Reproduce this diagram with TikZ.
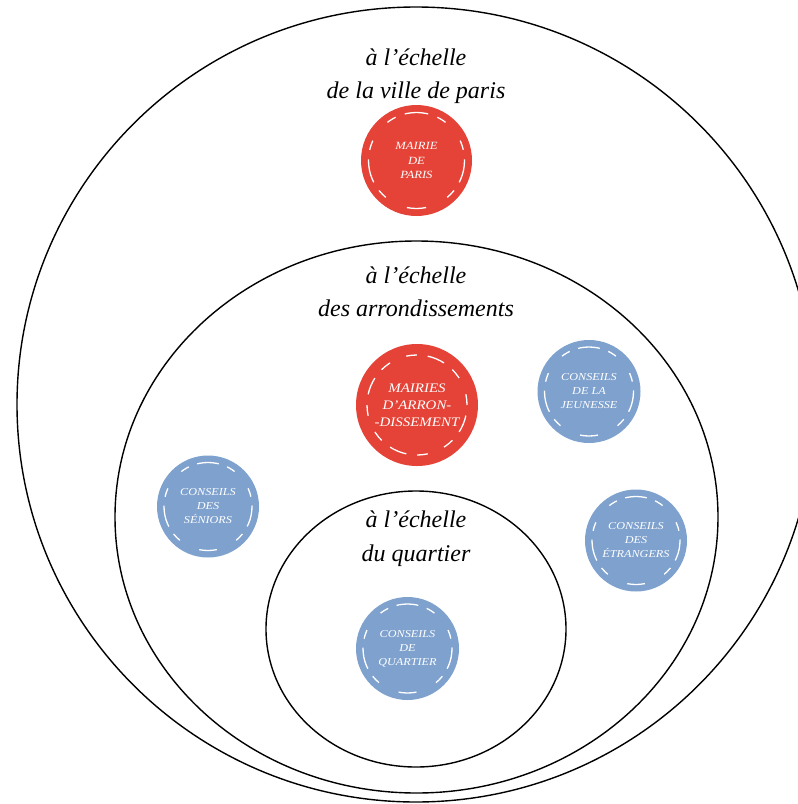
\documentclass[tikz,border=0pt]{standalone}
\usepackage{fontspec}
\setmainfont{Liberation Serif}
\newfontfamily\discfont[FakeStretch=1.15]{Liberation Serif}
\usetikzlibrary{shapes.geometric}
\definecolor{mred}{RGB}{229,67,56}
\definecolor{mblue}{RGB}{126,161,206}
\tikzset{
  ring/.style={draw=black, line width=1.4pt, ellipse, inner sep=0pt, outer sep=0pt},
  head/.style={font=\fontsize{24}{28}\selectfont\itshape, anchor=base, inner sep=0pt},
  disc/.style={circle, inner sep=0pt, outer sep=0pt, text=white, align=center},
  redd/.style={disc, fill=mred},
  blued/.style={disc, fill=mblue},
  ctext/.style={font=\discfont\itshape\fontsize{10.6}{14}\selectfont},
  ptext/.style={font=\discfont\itshape\fontsize{11}{14.5}\selectfont},
  mtext/.style={font=\discfont\itshape\fontsize{13}{17}\selectfont},
}
% name, radius (pt), number of dashes, angle of a dash centre, on fraction
\newcommand\dashring[5]{%
  \pgfmathsetmacro\dper{2*pi*#2/#3}%
  \pgfmathsetmacro\dhon{#5*\dper/2}%
  \pgfmathsetmacro\doff{(1-#5)*\dper}%
  \draw[white, line width=1.3pt, dash pattern=on \dhon pt off \doff pt on \dhon pt]
    (#1.center) ++(#4:#2pt) arc[start angle=#4, delta angle=360, radius=#2pt];
}
\begin{document}
\begin{tikzpicture}[x=1pt,y=1pt]
\useasboundingbox (0,0) rectangle (798,-804);
% scale rings
\node[ring, minimum width=798pt, minimum height=795pt] (city) at (416,-404.5) {};
\node[ring, minimum width=603pt, minimum height=552pt] (arr) at (416.5,-517) {};
\node[ring, minimum width=300pt, minimum height=276pt] (qua) at (416,-629) {};
% headings
\node[head] (h1a) at (416,-65) {à l’échelle};
\node[head] (h1b) at (416,-98) {de la ville de paris};
\node[head] (h2a) at (416,-283) {à l’échelle};
\node[head] (h2b) at (416,-316) {des arrondissements};
\node[head] (h3a) at (416,-527) {à l’échelle};
\node[head] (h3b) at (416,-561) {du quartier};
% discs
\node[redd, ptext, minimum size=111pt] (paris) at (416.5,-160.5) {MAIRIE\\DE\\PARIS};
\node[redd, mtext, minimum size=122pt] (mairies) at (417,-405) {MAIRIES\\D’ARRON-\\-DISSEMENT};
\node[blued, ctext, minimum size=103pt] (jeun) at (589,-391.5) {CONSEILS\\DE LA\\JEUNESSE};
\node[blued, ctext, minimum size=102pt] (sen) at (208,-506.5) {CONSEILS\\DES\\SÉNIORS};
\node[blued, ctext, minimum size=102pt] (etr) at (636,-540.5) {CONSEILS\\DES\\ÉTRANGERS};
\node[blued, ctext, minimum size=103pt] (cq) at (407.5,-648.5) {CONSEILS\\DE\\QUARTIER};
% white dashed inner rings
\dashring{paris}{48}{7}{-90}{0.45}
\dashring{mairies}{50}{8}{0}{0.55}
\dashring{jeun}{44.5}{7}{-90}{0.45}
\dashring{sen}{44}{7}{-90}{0.45}
\dashring{etr}{44}{7}{-90}{0.45}
\dashring{cq}{44.5}{7}{-90}{0.45}
\end{tikzpicture}
\end{document}
